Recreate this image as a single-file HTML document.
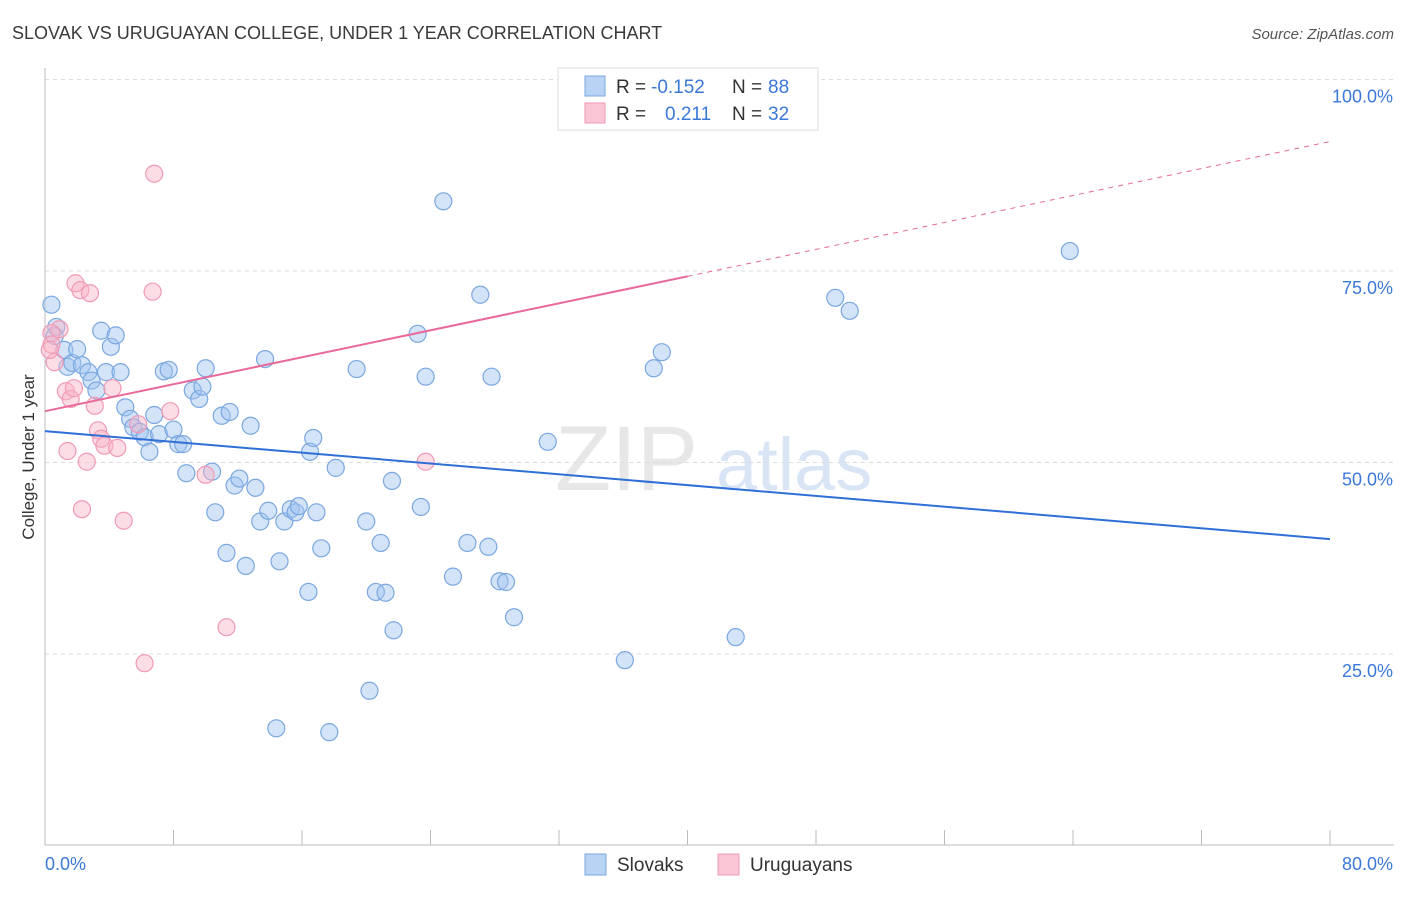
<!DOCTYPE html>
<html><head><meta charset="utf-8"><style>
body{margin:0;background:#fff;font-family:"Liberation Sans",sans-serif;}
svg text{font-family:"Liberation Sans",sans-serif;}
</style></head><body>
<svg id="chart" width="1406" height="892" xmlns="http://www.w3.org/2000/svg">
<text x="12" y="39" font-size="18" fill="#3a3a3a">SLOVAK VS URUGUAYAN COLLEGE, UNDER 1 YEAR CORRELATION CHART</text>
<text x="1394" y="39" font-size="15" fill="#555" font-style="italic" text-anchor="end">Source: ZipAtlas.com</text>
<g><text x="555" y="490" font-size="92" fill="#ddd" font-family="Liberation Serif" opacity="0.7">ZIP</text><text x="716" y="490" font-size="74" fill="#c9dbf2" opacity="0.7">atlas</text></g>
<g id="grid"></g>
<g id="axes"></g>
<g id="pts"></g>
<g id="trends"></g>
<text transform="translate(34,457) rotate(-90)" font-size="17" fill="#333" text-anchor="middle">College, Under 1 year</text>
<g>
<rect x="558" y="68" width="260" height="62" fill="#fff" stroke="#ddd"/>
<rect x="585" y="76" width="20" height="20" fill="#b9d3f5" stroke="#7aa7e0"/>
<rect x="585" y="103" width="20" height="20" fill="#fac6d6" stroke="#f09ab5"/>
<text x="616" y="93" font-size="19" fill="#333">R = </text><text x="651" y="93" font-size="19" fill="#3b78d8">-0.152</text>
<text x="732" y="93" font-size="19" fill="#333">N = </text><text x="768" y="93" font-size="19" fill="#3b78d8">88</text>
<text x="616" y="120" font-size="19" fill="#333">R = </text><text x="665" y="120" font-size="19" fill="#3b78d8">0.211</text>
<text x="732" y="120" font-size="19" fill="#333">N = </text><text x="768" y="120" font-size="19" fill="#3b78d8">32</text>
</g>
<g>
<rect x="585" y="854" width="21" height="21" fill="#b9d3f5" stroke="#7aa7e0"/>
<text x="617" y="871" font-size="19" fill="#333">Slovaks</text>
<rect x="718" y="854" width="21" height="21" fill="#fac6d6" stroke="#f09ab5"/>
<text x="750" y="871" font-size="19" fill="#333">Uruguayans</text>
</g>
</svg>
<script>
const blueX=[0.4,0.7,0.6,1.2,1.4,1.7,2.0,2.3,2.7,2.9,3.2,3.5,3.8,4.1,4.4,4.7,5.0,5.3,5.5,5.9,6.2,6.5,6.8,7.1,7.4,7.7,8.0,8.3,8.6,8.8,9.2,9.6,9.8,10.0,10.4,10.6,11.0,11.3,11.5,11.8,12.1,12.5,12.8,13.1,13.4,13.7,13.9,14.6,14.9,15.3,15.6,15.8,16.4,16.5,16.7,16.9,17.2,18.1,19.4,20.0,20.2,20.6,20.9,21.2,21.6,21.7,23.2,23.4,23.7,24.8,25.4,26.3,27.1,27.6,27.8,28.3,28.7,29.2,31.3,36.1,37.9,38.4,43.0,49.2,50.1,63.8,14.4,17.7];
const blueY=[70.6,67.7,66.5,64.7,62.5,63.0,64.8,62.7,61.8,60.7,59.4,67.2,61.8,65.1,66.6,61.8,57.2,55.7,54.6,54.0,53.3,51.4,56.2,53.7,61.9,62.1,54.3,52.4,52.4,48.6,59.4,58.3,59.9,62.3,48.8,43.5,56.1,38.2,56.6,47.0,47.9,36.5,54.8,46.7,42.3,63.5,43.7,37.1,42.3,43.9,43.5,44.3,33.1,51.4,53.2,43.5,38.8,49.3,62.2,42.3,20.2,33.1,39.5,33.0,47.6,28.1,66.8,44.2,61.2,84.1,35.1,39.5,71.9,39.0,61.2,34.5,34.4,29.8,52.7,24.2,62.3,64.4,27.2,71.5,69.8,77.6,15.3,14.8];
const pinkX=[6.8,1.9,2.2,2.8,6.7,0.9,0.4,0.4,0.6,1.3,1.6,1.8,3.1,4.2,3.3,3.5,3.7,4.5,1.4,2.6,2.3,4.9,7.8,5.8,10.0,11.3,6.2,23.7,0.3];
const pinkY=[87.7,73.4,72.5,72.1,72.3,67.4,66.9,65.4,63.1,59.3,58.3,59.7,57.4,59.7,54.2,53.1,52.2,51.9,51.5,50.1,43.9,42.4,56.7,55.0,48.4,28.5,23.8,50.1,64.7];
const blueTrend=[54.1,40.0];
const pinkTrend=[56.7,91.9];
const yTicks=[25,50,75,100];
const xTickLabels=["0.0%","80.0%"];
const NS="http://www.w3.org/2000/svg";
const sx=v=>45+v*1285/80, sy=v=>845.5-v*7.66;
function mk(tag,attrs,parent){const e=document.createElementNS(NS,tag);for(const k in attrs)e.setAttribute(k,attrs[k]);document.getElementById(parent).appendChild(e);return e;}
yTicks.forEach(t=>{
 const l=mk('line',{x1:45,x2:1394,y1:sy(t),y2:sy(t),stroke:'#ddd','stroke-dasharray':'4,4'},'grid');
 
 
 const tx=mk('text',{x:1393,y:sy(t)+23,'font-size':18,fill:'#3b78d8','text-anchor':'end'},'grid');
 tx.textContent=t.toFixed(1)+'%';
 
 
});
mk('line',{x1:45,x2:45,y1:68,y2:845,stroke:'#bbb'},'axes');
mk('line',{x1:45,x2:1394,y1:845,y2:845,stroke:'#bbb'},'axes');
for(let i=0;i<=10;i++){const x=sx(i*8);const t=mk('line',{x1:x,x2:x,y1:830,y2:845,stroke:'#bbb'},'axes');
 
 }
const xl0=mk('text',{x:45,y:870,'font-size':18,fill:'#3b78d8'},'axes');xl0.textContent=xTickLabels[0];


const xl1=mk('text',{x:1393,y:870,'font-size':18,fill:'#3b78d8','text-anchor':'end'},'axes');xl1.textContent=xTickLabels[1];


blueX.forEach((x,i)=>{const c=mk('circle',{cx:sx(x),cy:sy(blueY[i]),r:8.5,fill:'rgba(160,196,240,0.45)',stroke:'#7aa7e0','stroke-width':1.2},'pts');
 
 });
pinkX.forEach((x,i)=>{const c=mk('circle',{cx:sx(x),cy:sy(pinkY[i]),r:8.5,fill:'rgba(248,180,200,0.45)',stroke:'#f09ab5','stroke-width':1.2},'pts');
 
 });
const bl=mk('line',{x1:sx(0),y1:sy(blueTrend[0]),x2:sx(80),y2:sy(blueTrend[1]),stroke:'#2f6fd6','stroke-width':2},'trends');


const pm=pinkTrend[0]+(pinkTrend[1]-pinkTrend[0])*0.5;
const ps=mk('line',{x1:sx(0),y1:sy(pinkTrend[0]),x2:sx(40),y2:sy(pm),stroke:'#e8699a','stroke-width':2},'trends');


const pd=mk('line',{x1:sx(40),y1:sy(pm),x2:sx(80),y2:sy(pinkTrend[1]),stroke:'#e8699a','stroke-width':1,'stroke-dasharray':'5,5'},'trends');


</script>
</body></html>
